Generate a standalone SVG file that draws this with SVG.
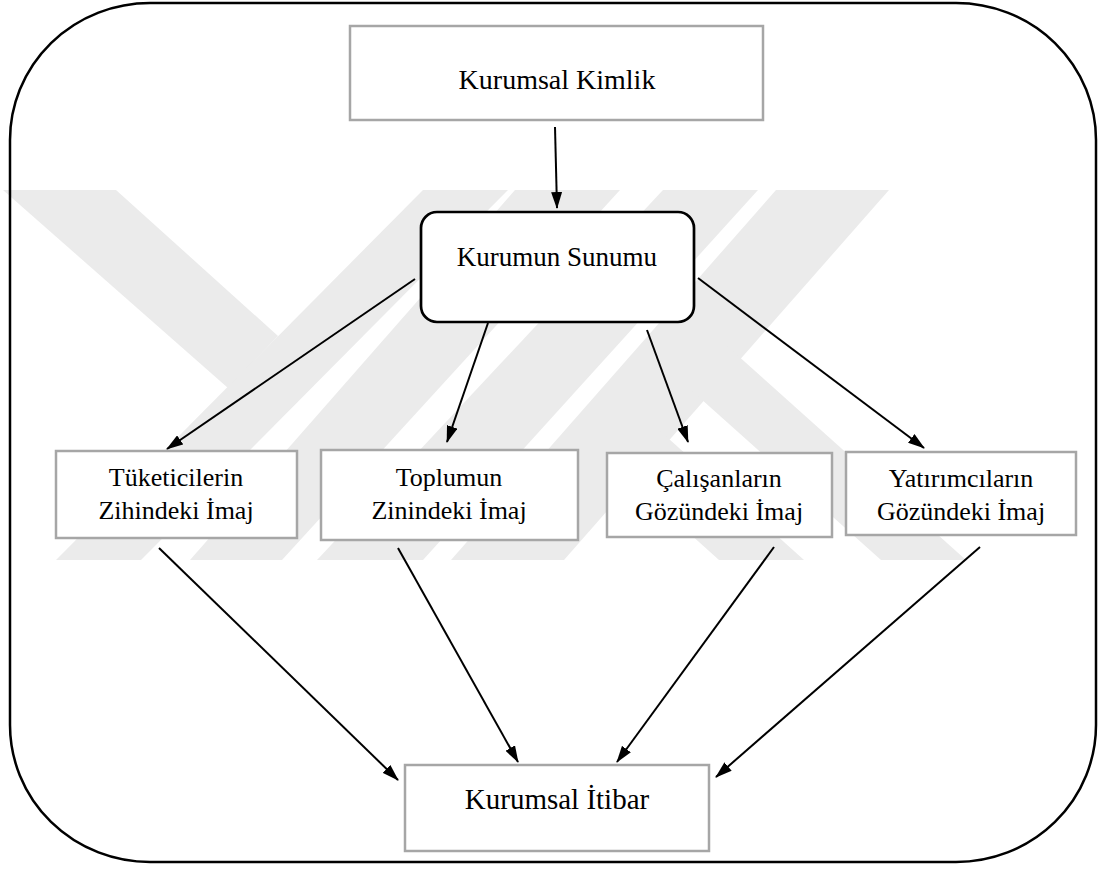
<svg xmlns="http://www.w3.org/2000/svg" width="1105" height="872" viewBox="0 0 1105 872">
<defs>
<marker id="ah" markerWidth="17" markerHeight="11" refX="16" refY="5.5" orient="auto" markerUnits="userSpaceOnUse">
<path d="M0,0 L17,5.5 L0,11 Z" fill="#000"/>
</marker>
<style>
.gbox{fill:#fff;stroke:#a6a6a6;stroke-width:2.5}
.t{font-family:"Liberation Serif","Times New Roman",serif;fill:#000;text-anchor:middle}
.c{stroke:#000;stroke-width:2;fill:none;marker-end:url(#ah)}
.wm{fill:#ebebeb}
</style>
</defs>
<rect width="1105" height="872" fill="#fff"/>
<g id="watermark">
<polygon class="wm" points="3,190 116,190 278,336 228,388"/>
<polygon class="wm" points="423,190 508,190 141,560 56,560"/>
<polygon class="wm" points="515,190 620,190 282,560 190,560"/>
<polygon class="wm" points="663,190 758,190 423,560 317,560"/>
<polygon class="wm" points="776,190 889,190 564,560 451,560"/>
<polygon class="wm" points="619,470 659,430 804,560 719,560"/>
<polygon class="wm" points="691,390 726,345 966,560 881,560"/>
</g>
<rect x="10" y="3" width="1086" height="859" rx="140" ry="137" fill="none" stroke="#000" stroke-width="2.5"/>
<g id="connectors">
<line class="c" x1="555" y1="127" x2="557" y2="208"/>
<line class="c" x1="415" y1="279" x2="167" y2="449"/>
<line class="c" x1="488" y1="323" x2="447" y2="442"/>
<line class="c" x1="647" y1="330" x2="688" y2="442"/>
<line class="c" x1="698" y1="278" x2="924" y2="448"/>
<line class="c" x1="159" y1="548" x2="398" y2="780"/>
<line class="c" x1="398" y1="548" x2="518" y2="762"/>
<line class="c" x1="774" y1="547" x2="617" y2="762"/>
<line class="c" x1="980" y1="547" x2="716" y2="777"/>
</g>
<g id="kimlik">
<rect class="gbox" x="350" y="26" width="413" height="94"/>
<text class="t" x="557" y="89" font-size="28">Kurumsal Kimlik</text>
</g>
<g id="sunum">
<rect x="421" y="212" width="273" height="110" rx="16" fill="#fff" stroke="#000" stroke-width="2.7"/>
<text class="t" x="557" y="266" font-size="27">Kurumun Sunumu</text>
</g>
<g id="tuketici">
<rect class="gbox" x="56" y="451" width="241" height="87"/>
<text class="t" x="176" y="486" font-size="26">Tüketicilerin</text>
<text class="t" x="176" y="519" font-size="26">Zihindeki İmaj</text>
</g>
<g id="toplum">
<rect class="gbox" x="321" y="450" width="257" height="90"/>
<text class="t" x="449" y="486" font-size="26">Toplumun</text>
<text class="t" x="449" y="519" font-size="26">Zinindeki İmaj</text>
</g>
<g id="calisan">
<rect class="gbox" x="607" y="453" width="225" height="84"/>
<text class="t" x="719" y="487" font-size="26">Çalışanların</text>
<text class="t" x="719" y="520" font-size="26">Gözündeki İmaj</text>
</g>
<g id="yatirimci">
<rect class="gbox" x="846" y="452" width="230" height="83"/>
<text class="t" x="961" y="487" font-size="26">Yatırımcıların</text>
<text class="t" x="961" y="520" font-size="26">Gözündeki İmaj</text>
</g>
<g id="itibar">
<rect class="gbox" x="405" y="765" width="304" height="86"/>
<text class="t" x="557" y="809" font-size="29">Kurumsal İtibar</text>
</g>
</svg>
